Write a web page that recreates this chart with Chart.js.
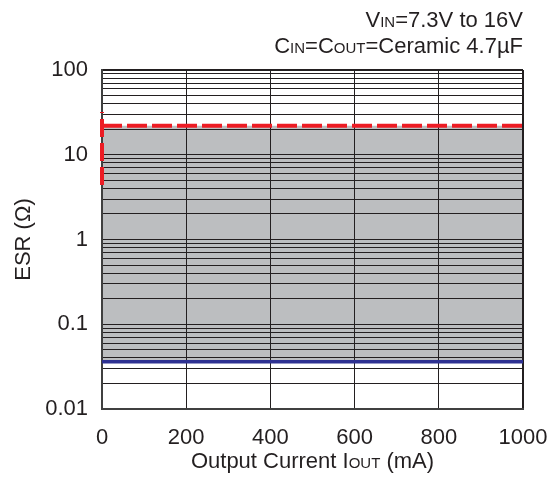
<!DOCTYPE html>
<html>
<head>
<meta charset="utf-8">
<script src="https://cdn.jsdelivr.net/npm/chart.js@4"></script>
<style>
  html, body { margin: 0; padding: 0; background: #fff; }
  #wrap { width: 547px; height: 484px; }
</style>
</head>
<body>
<div id="wrap"><canvas id="esrChart" width="547" height="484"></canvas></div>
<script>
// dados
const currentRange = [0, 1000];          // mA
const esrMax = [22, 22];                 // limite superior (linha vermelha)
const esrMin = [0.036, 0.036];           // limite inferior (linha azul)
const esrMaxEdge = [4.4, 32];            // trecho vertical vermelho em 0 mA
const yMajorTicks = [0.01, 0.1, 1, 10, 100];
const yMinorSteps = [2, 3, 4, 5, 6, 7, 8, 9];
const xTicks = [0, 200, 400, 600, 800, 1000];

const FONT = "'Liberation Sans', Arial, sans-serif";
const INK = '#231f20';

// texto com partes de tamanhos diferentes (subscritos em caixa baixa)
function drawMixed(ctx, parts, x, y, align) {
  let total = 0;
  parts.forEach(p => {
    ctx.font = p.size + 'px ' + FONT;
    p.w = ctx.measureText(p.t).width;
    total += p.w;
  });
  let cx = align === 'right' ? x - total : (align === 'center' ? x - total / 2 : x);
  parts.forEach(p => {
    ctx.font = p.size + 'px ' + FONT;
    ctx.fillText(p.t, cx, y);
    cx += p.w;
  });
}

const textPlugin = {
  id: 'textPlugin',
  afterDraw(chart) {
    const ctx = chart.ctx;
    const area = chart.chartArea;
    ctx.save();
    ctx.fillStyle = INK;
    ctx.textBaseline = 'alphabetic';
    drawMixed(ctx, [{t: 'V', size: 22}, {t: 'IN', size: 15}, {t: '=7.3V to 16V', size: 22}], 523, 27, 'right');
    drawMixed(ctx, [{t: 'C', size: 22}, {t: 'IN', size: 15}, {t: '=C', size: 22}, {t: 'OUT', size: 15}, {t: '=Ceramic 4.7\u00b5F', size: 22}], 523, 53, 'right');
    drawMixed(ctx, [{t: 'Output Current I', size: 22}, {t: 'OUT', size: 15}, {t: ' (mA)', size: 22}], (area.left + area.right) / 2, 468, 'center');
    // título do eixo y
    ctx.translate(30, (area.top + area.bottom) / 2);
    ctx.rotate(-Math.PI / 2);
    ctx.textAlign = 'center';
    ctx.font = '22px ' + FONT;
    ctx.fillText('ESR (\u03a9)', 0, 0);
    ctx.restore();
  }
};

const ctx = document.getElementById('esrChart').getContext('2d');
new Chart(ctx, {
  type: 'line',
  data: {
    datasets: [
      {
        label: 'ESR max',
        data: currentRange.map((x, i) => ({x: x, y: esrMax[i]})),
        borderColor: '#ed1c24',
        borderWidth: 4,
        borderDash: [20, 5],
        pointRadius: 0,
        fill: 1,   // preenche até a linha azul
        backgroundColor: '#bcbec0',
        clip: false
      },
      {
        label: 'ESR min',
        data: currentRange.map((x, i) => ({x: x, y: esrMin[i]})),
        borderColor: '#2e3192',
        borderWidth: 3.5,
        pointRadius: 0,
        fill: false
      },
      {
        label: 'ESR max edge',
        data: esrMaxEdge.map(y => ({x: currentRange[0], y: y})),
        borderColor: '#ed1c24',
        borderWidth: 4,
        borderDash: [18, 6],
        pointRadius: 0,
        fill: false,
        clip: false
      }
    ]
  },
  options: {
    responsive: false,
    animation: false,
    layout: {padding: {top: 70, right: 0, left: 0, bottom: 0}},
    plugins: {
      legend: {display: false},
      tooltip: {enabled: false},
      filler: {drawTime: 'beforeDraw'}
    },
    scales: {
      x: {
        type: 'linear',
        min: currentRange[0],
        max: currentRange[1],
        afterFit(scale) {
          scale.height = 75;
          scale.paddingLeft = 0;
          scale.paddingRight = 24;
        },
        afterBuildTicks(scale) { scale.ticks = xTicks.map(v => ({value: v})); },
        border: {color: '#404040', width: 2},
        grid: {
          color: INK,
          lineWidth: c => (c.tick && c.tick.value === xTicks[xTicks.length - 1]) ? 2 : 1,
          drawTicks: false
        },
        ticks: {
          padding: 16,
          color: INK,
          font: {family: FONT, size: 22},
          maxRotation: 0,
          callback: v => String(v)
        }
      },
      y: {
        type: 'logarithmic',
        min: yMajorTicks[0],
        max: yMajorTicks[yMajorTicks.length - 1],
        afterFit(scale) { scale.width = 102; },
        afterBuildTicks(scale) {
          const t = [];
          yMajorTicks.forEach((m, i) => {
            t.push({value: m, major: true});
            if (i < yMajorTicks.length - 1) yMinorSteps.forEach(s => t.push({value: m * s}));
          });
          scale.ticks = t;
        },
        border: {color: '#404040', width: 2},
        grid: {
          color: INK,
          lineWidth: c => (c.tick && c.tick.value === yMajorTicks[yMajorTicks.length - 1]) ? 2 : 1,
          drawTicks: false
        },
        ticks: {
          padding: 14,
          color: INK,
          autoSkip: false,
          font: {family: FONT, size: 22},
          callback: v => yMajorTicks.includes(v) ? String(v) : ''
        }
      }
    }
  },
  plugins: [textPlugin]
});
</script>
</body>
</html>
